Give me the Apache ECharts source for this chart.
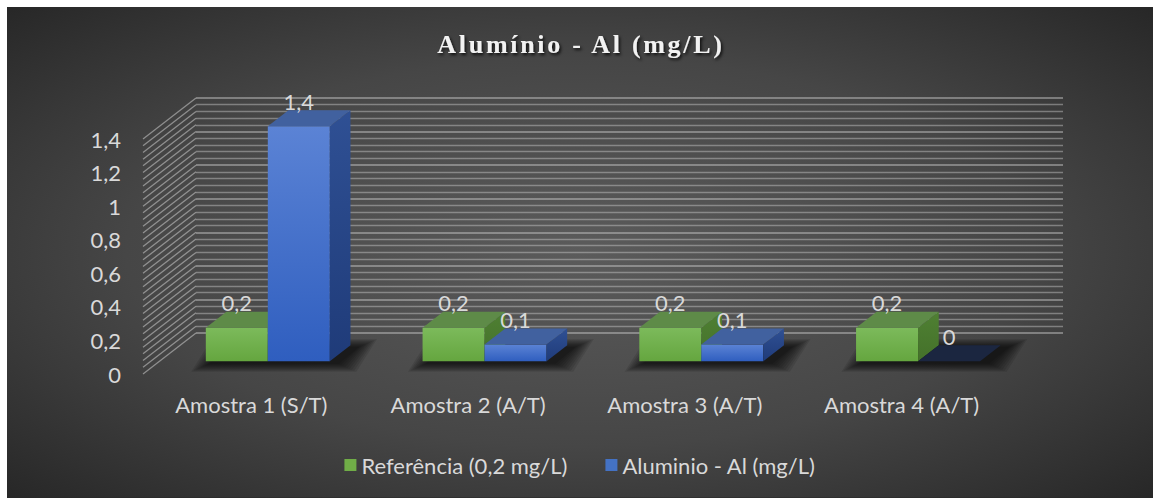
<!DOCTYPE html>
<html>
<head>
<meta charset="utf-8">
<script src="https://cdn.jsdelivr.net/npm/echarts@6/dist/echarts.min.js"></script>
<style>
  html, body { margin: 0; padding: 0; background: #ffffff; }
  #chart { position: absolute; left: 7px; top: 7px; width: 1146px; height: 491px; }
</style>
</head>
<body>
<div id="chart"></div>
<script>
// ---- data ----
const categories = ['Amostra 1 (S/T)', 'Amostra 2 (A/T)', 'Amostra 3 (A/T)', 'Amostra 4 (A/T)'];
const referencia = [0.2, 0.2, 0.2, 0.2];
const aluminio = [1.4, 0.1, 0.1, 0];
const seriesNames = ['Referência (0,2 mg/L)', 'Aluminio - Al (mg/L)'];
const titleText = 'Alumínio - Al (mg/L)';
const yMax = 1.4;
const yStep = 0.2;
const yMinorSplits = 5;

// ---- 3D box geometry (pixels / fractions) ----
const DEPTH = [53, -41];          // shift from the front plane to the back wall
const BAR_FRONT = 0.31;           // depth position of the bar slab
const BAR_BACK = 0.70;
const BAR_W = 0.286;              // share of one category band per bar
const PLOT = { left: 136, top: 132, width: 867, height: 235 };
const TEXT_COLOR = '#d9d9d9';
const FONT = 'Lato';
const FONT_SIZE = 22;

const palettes = [
  { front: ['#7cba5b', '#65a63f'], top: '#5e8b48', side: ['#4f8033', '#44712a'], flat: '#3d5f2c', legend: '#70ad47' },
  { front: ['#5b83d5', '#2f5ebf'], top: '#41619f', side: ['#2f5094', '#1f3b79'], flat: '#1b2640', legend: '#4472c4' }
];

const fmt = v => String(v).replace('.', ',');

// wall tick positions (major + minor gridlines)
const wallTicks = [];
for (let i = 0; i <= Math.round(yMax / yStep) * yMinorSplits; i++) {
  wallTicks.push(+(i * yStep / yMinorSplits).toFixed(4));
}

const ox = DEPTH[0] * BAR_FRONT, oy = DEPTH[1] * BAR_FRONT;
const bdx = DEPTH[0] * (BAR_BACK - BAR_FRONT), bdy = DEPTH[1] * (BAR_BACK - BAR_FRONT);

function lin(c0, c1) {
  return new echarts.graphic.LinearGradient(0, 0, 0, 1, [
    { offset: 0, color: c0 }, { offset: 1, color: c1 }
  ]);
}

function makeBarRenderer(side, pal) {
  return function (params, api) {
    const ci = api.value(0), v = api.value(1);
    const base = api.coord([ci, 0]);
    const top = api.coord([ci, v]);
    const w = api.size([1, 0])[0] * BAR_W;
    const x0 = base[0] + ox + (side < 0 ? -w : 0), x1 = x0 + w;
    const yb = base[1] + oy, yt = top[1] + oy;
    const h = yb - yt;
    const children = [];
    if (h > 0.5) {
      children.push({
        type: 'rect', shape: { x: x0, y: yt, width: w, height: h },
        style: { fill: lin(pal.front[0], pal.front[1]) }
      });
      children.push({
        type: 'polygon',
        shape: { points: [[x1, yt], [x1 + bdx, yt + bdy], [x1 + bdx, yb + bdy], [x1, yb]] },
        style: { fill: lin(pal.side[0], pal.side[1]) }
      });
    }
    children.push({
      type: 'polygon',
      shape: { points: [[x0, yt], [x1, yt], [x1 + bdx, yt + bdy], [x0 + bdx, yt + bdy]] },
      style: { fill: h > 0.5 ? pal.top : pal.flat }
    });
    children.push({
      type: 'text', x: x0 + w / 2, y: yt + bdy - 9,
      style: {
        text: fmt(v), align: 'center', verticalAlign: 'middle',
        fill: TEXT_COLOR, fontSize: FONT_SIZE, fontFamily: FONT
      }
    });
    return { type: 'group', children };
  };
}

// soft floor shadow under each pair of bars, built from stacked translucent layers
function renderShadow(params, api) {
  const ci = api.value(0);
  const base = api.coord([ci, 0]);
  const w = api.size([1, 0])[0] * BAR_W;
  const cx0 = base[0] + ox - w + 4, cx1 = base[0] + ox + w + 8;
  const yb = base[1] + oy + 2;
  const layers = [];
  for (let k = 0; k < 9; k++) {
    const e = 1 + k * 2.2;
    const x0 = cx0 - e, x1 = cx1 + e;
    const yf = yb + e * 0.45, yk = yb + bdy - e * 0.45;
    layers.push({
      type: 'polygon',
      shape: { points: [[x0, yf], [x1, yf], [x1 + bdx, yk], [x0 + bdx, yk]] },
      style: { fill: 'rgba(0,0,0,0.1)' }
    });
  }
  return { type: 'group', children: layers };
}

function renderSideWall(params, api) {
  const v = api.value(0);
  const p = api.coord([0, v]);
  const x = params.coordSys.x;
  return {
    type: 'line',
    shape: { x1: x, y1: p[1], x2: x + DEPTH[0], y2: p[1] + DEPTH[1] },
    style: { stroke: 'rgba(205,205,205,0.55)', lineWidth: 1.3 }
  };
}

const chart = echarts.init(document.getElementById('chart'), null, { renderer: 'svg' });

chart.setOption({
  animation: false,
  backgroundColor: '#262626',
  graphic: [
    {
      type: 'rect', x: 0, y: 0, scaleY: 491 / 1146, silent: true, z: -10,
      shape: { x: 0, y: 0, width: 1146, height: 1146 },
      style: {
        fill: new echarts.graphic.RadialGradient(0.5, 0.5, 0.72, [
          { offset: 0, color: '#5b5b5b' },
          { offset: 0.55, color: '#464646' },
          { offset: 1, color: '#262626' }
        ])
      }
    },
    {
      type: 'text', x: 574, y: 37, z: 10,
      style: {
        text: titleText, align: 'center', verticalAlign: 'middle',
        fill: '#f2f2f2', fontSize: 26, fontWeight: 'bold', fontFamily: 'Liberation Serif',
        textShadowColor: 'rgba(0,0,0,0.8)', textShadowBlur: 3,
        textShadowOffsetX: 1.5, textShadowOffsetY: 2
      }
    }
  ],
  legend: {
    data: seriesNames,
    left: 'center', top: 442,
    icon: 'rect', itemWidth: 12, itemHeight: 12, itemGap: 38,
    textStyle: { color: TEXT_COLOR, fontSize: FONT_SIZE, fontFamily: FONT },
    selectedMode: false
  },
  grid: [
    { left: PLOT.left, top: PLOT.top, width: PLOT.width, height: PLOT.height },
    { left: PLOT.left + DEPTH[0], top: PLOT.top + DEPTH[1], width: PLOT.width, height: PLOT.height }
  ],
  xAxis: [
    {
      type: 'category', gridIndex: 0, data: categories,
      axisLine: { show: false }, axisTick: { show: false },
      axisLabel: { color: TEXT_COLOR, fontSize: FONT_SIZE, fontFamily: FONT, margin: 19 }
    },
    { type: 'category', gridIndex: 1, data: categories, show: false }
  ],
  yAxis: [
    {
      type: 'value', gridIndex: 0, min: 0, max: yMax, interval: yStep,
      axisLine: { show: false }, axisTick: { show: false }, splitLine: { show: false },
      axisLabel: { color: TEXT_COLOR, fontSize: FONT_SIZE, fontFamily: FONT, margin: 22, formatter: fmt }
    },
    {
      type: 'value', gridIndex: 1, min: 0, max: yMax, interval: yStep,
      axisLine: { show: false }, axisTick: { show: false }, axisLabel: { show: false },
      minorTick: { show: false, splitNumber: yMinorSplits },
      splitLine: { show: true, lineStyle: { color: 'rgba(205,205,205,0.6)', width: 1.5 } },
      minorSplitLine: { show: true, lineStyle: { color: 'rgba(205,205,205,0.45)', width: 1.3 } }
    }
  ],
  series: [
    {
      type: 'custom', name: 'wall', xAxisIndex: 0, yAxisIndex: 0, z: 1, silent: true,
      data: wallTicks.map(v => [v]), renderItem: renderSideWall,
      encode: { y: 0 }
    },
    {
      type: 'custom', name: 'shadow', xAxisIndex: 0, yAxisIndex: 0, z: 1, silent: true,
      data: categories.map((c, i) => [i, Math.max(referencia[i], aluminio[i])]),
      renderItem: renderShadow
    },
    {
      type: 'custom', name: seriesNames[0], xAxisIndex: 0, yAxisIndex: 0, z: 2,
      itemStyle: { color: palettes[0].legend },
      data: referencia.map((v, i) => [i, v]),
      renderItem: makeBarRenderer(-1, palettes[0])
    },
    {
      type: 'custom', name: seriesNames[1], xAxisIndex: 0, yAxisIndex: 0, z: 3,
      itemStyle: { color: palettes[1].legend },
      data: aluminio.map((v, i) => [i, v]),
      renderItem: makeBarRenderer(1, palettes[1])
    }
  ]
});

// widen the title's tracking
function spaceTitle() {
  document.querySelectorAll('#chart text').forEach(t => {
    if (t.textContent === titleText) t.style.letterSpacing = '2.7px';
  });
}
spaceTitle();
chart.on('finished', spaceTitle);
setTimeout(spaceTitle, 50);
</script>
</body>
</html>
